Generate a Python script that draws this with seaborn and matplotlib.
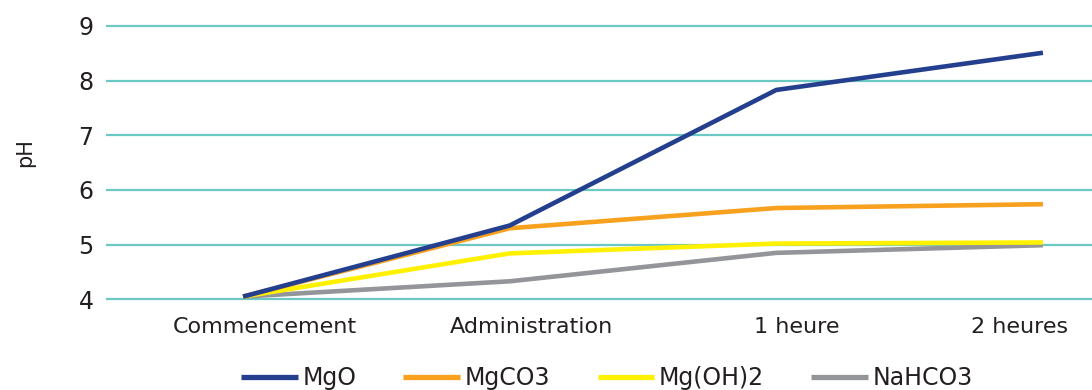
import matplotlib
matplotlib.use("Agg")
import matplotlib.pyplot as plt
import matplotlib.transforms as mtransforms
import seaborn as sns
import pandas as pd

# Time points and pH readings for each antacid
moments = ["Commencement", "Administration", "1 heure", "2 heures"]
mgo = [4.05, 5.35, 7.83, 8.51]
mgco3 = [4.05, 5.30, 5.67, 5.74]
mgoh2 = [4.05, 4.84, 5.02, 5.04]
nahco3 = [4.05, 4.33, 4.85, 4.99]
series_names = ["MgO", "MgCO3", "Mg(OH)2", "NaHCO3"]
series_values = [mgo, mgco3, mgoh2, nahco3]
y_ticks = [4, 5, 6, 7, 8, 9]

colors = {"MgO": "#253f8f", "MgCO3": "#f7a11f", "Mg(OH)2": "#fff100", "NaHCO3": "#939598"}

rows = []
for name, vals in zip(series_names, series_values):
    for i, v in enumerate(vals):
        rows.append({"moment": i, "pH": v, "produit": name})
df = pd.DataFrame(rows)

sns.set_theme(style="white")
plt.rcParams["font.family"] = ["DejaVu Sans"]
text_color = "#231f20"

fig = plt.figure(figsize=(10.92, 3.90), dpi=100)
ax = fig.add_axes([106 / 1092, 1 - 304.8 / 390, 1 - 106 / 1092, (304.8 - 20.5) / 390])

# horizontal grid
for t in y_ticks:
    ax.axhline(t, color="#6cc8c4", lw=1.6, zorder=0)

# draw later series first so MgO sits on top
draw_order = list(reversed(series_names))
for name in draw_order:
    sub = df[df["produit"] == name]
    sns.lineplot(data=sub, x="moment", y="pH", color=colors[name], lw=3.3,
                 ax=ax, legend=False, zorder=3, solid_capstyle="butt")

ax.set_xlim(-0.514, 3.184)
ax.set_ylim(3.9, 9.1)
ax.set_xticks(range(len(moments)))
ax.set_xticklabels(moments, fontsize=16, color=text_color)
ax.set_yticks(y_ticks)
ax.set_yticklabels([str(t) for t in y_ticks], fontsize=17, color=text_color)
ax.tick_params(axis="both", length=0)
ax.tick_params(axis="x", pad=9)
ax.tick_params(axis="y", pad=9)

# nudge category labels: slightly right of each reading, the last one pulled
# back inside the frame
label_shift_pts = [16, 16, 15, -17]
for lab, dx in zip(ax.get_xticklabels(), label_shift_pts):
    lab.set_transform(lab.get_transform() +
                      mtransforms.ScaledTranslation(dx / 72, 0, fig.dpi_scale_trans))

ax.set_xlabel("")
ax.set_ylabel("pH", fontsize=15, color=text_color)
ax.yaxis.set_label_coords(-0.072, 0.537)
for s in ax.spines.values():
    s.set_visible(False)

handles = [plt.Line2D([], [], color=colors[n], lw=3.8, solid_capstyle="butt") for n in series_names]
leg = ax.legend(handles, series_names, loc="center", bbox_to_anchor=(0.508, -0.257),
                ncol=4, frameon=False, fontsize=17, handlelength=2.4,
                handletextpad=0.2, columnspacing=2.0)
for t in leg.get_texts():
    t.set_color(text_color)

fig.savefig("out.png", dpi=100)
